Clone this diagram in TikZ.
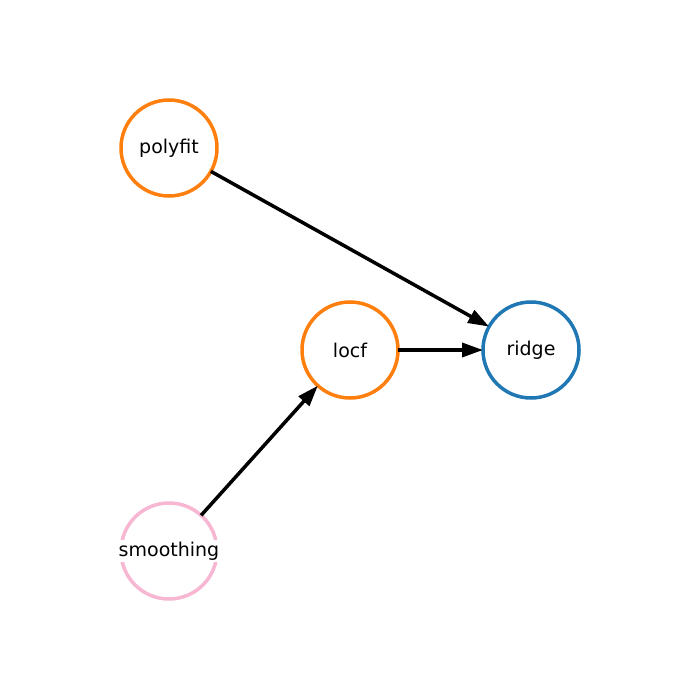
\documentclass[tikz,border=0pt]{standalone}
\usepackage{fontspec}
\setmainfont{DejaVu Sans}
\usetikzlibrary{arrows.meta}

\definecolor{mplorange}{HTML}{FF7F0E}
\definecolor{mplblue}{HTML}{1F77B4}
\definecolor{mplpink}{HTML}{F7B6D2}

\tikzset{
  vertex/.style={circle,line width=3.5pt,minimum size=96pt,inner sep=0pt,outer sep=0pt},
  lbl/.style={fill=white,inner sep=2pt,font=\fontsize{19}{22}\selectfont},
  edge/.style={line width=3.5pt,-{Triangle[length=21pt,width=14pt]}}
}

\begin{document}
\begin{tikzpicture}[x=1pt,y=-1pt]
    \useasboundingbox (0,0) rectangle (700,700);

    % polyfit
    \node[vertex,draw=mplorange] (polyfit) at (169,148) {};
    \node[lbl] at (polyfit) {polyfit};

    % locf
    \node[vertex,draw=mplorange] (locf) at (350,350) {};
    \node[lbl] at (locf) {locf};

    % ridge
    \node[vertex,draw=mplblue] (ridge) at (531,350) {};
    \node[lbl] at (ridge) {ridge};

    % smoothing
    \node[vertex,draw=mplpink] (smoothing) at (169,551) {};
    \node[lbl] at (smoothing) {smoothing};

    % edges
    \draw[edge] (polyfit) to (ridge);
    \draw[edge] (locf) to (ridge);
    \draw[edge] (smoothing) to (locf);
\end{tikzpicture}
\end{document}
